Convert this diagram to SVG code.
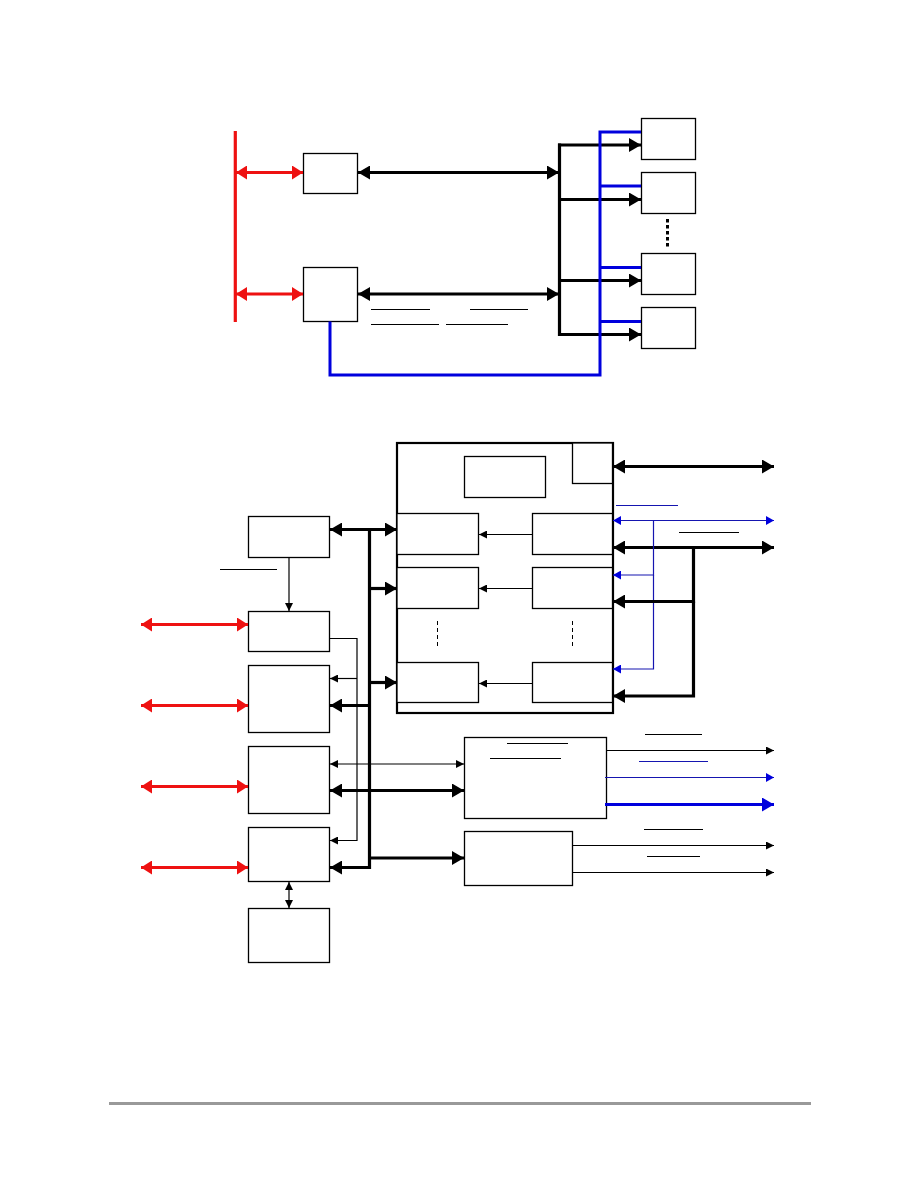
<svg xmlns="http://www.w3.org/2000/svg" width="918" height="1188" viewBox="0 0 918 1188">
<style>
.box{fill:#fff;stroke:#000;stroke-width:1.3}
.thk{fill:none;stroke:#000;stroke-width:3.2}
.thn{fill:none;stroke:#000;stroke-width:1.2}
.red{fill:none;stroke:#ee1111;stroke-width:3.2}
.bl{fill:none;stroke:#0000dd;stroke-width:3}
.blt{fill:none;stroke:#1515b0;stroke-width:1.2}
.ul{fill:none;stroke:#000;stroke-width:1.2}
.ulb{fill:none;stroke:#1515b0;stroke-width:1.2}
.dA{marker-start:url(#aK);marker-end:url(#aK)}
.eA{marker-end:url(#aK)}
.dR{marker-start:url(#aR);marker-end:url(#aR)}
.dT{marker-start:url(#aT);marker-end:url(#aT)}
.eT{marker-end:url(#aT)}
.eB{marker-end:url(#aB)}
.dBt{marker-start:url(#aBt);marker-end:url(#aBt)}
.eBt{marker-end:url(#aBt)}
</style>
<defs>
<marker id="aK" markerUnits="userSpaceOnUse" markerWidth="12" markerHeight="14" refX="12" refY="7" orient="auto-start-reverse"><path d="M0,0 L12,7 L0,14 z" fill="#000"/></marker>
<marker id="aR" markerUnits="userSpaceOnUse" markerWidth="11" markerHeight="14" refX="11" refY="7" orient="auto-start-reverse"><path d="M0,0 L11,7 L0,14 z" fill="#ee1111"/></marker>
<marker id="aT" markerUnits="userSpaceOnUse" markerWidth="8" markerHeight="8" refX="8" refY="4" orient="auto-start-reverse"><path d="M0,0 L8,4 L0,8 z" fill="#000"/></marker>
<marker id="aB" markerUnits="userSpaceOnUse" markerWidth="12" markerHeight="14" refX="12" refY="7" orient="auto-start-reverse"><path d="M0,0 L12,7 L0,14 z" fill="#0000dd"/></marker>
<marker id="aBt" markerUnits="userSpaceOnUse" markerWidth="8" markerHeight="9" refX="8" refY="4.5" orient="auto-start-reverse"><path d="M0,0 L8,4.5 L0,9 z" fill="#0000dd"/></marker>
</defs>
<rect width="918" height="1188" fill="#fff"/>

<!-- top section nodes -->
<g id="t-box1"><rect class="box" x="303.5" y="153.5" width="54" height="40"/></g>
<g id="t-box2"><rect class="box" x="303.5" y="267.5" width="54" height="54"/></g>
<g id="t-out1"><rect class="box" x="641.5" y="118.5" width="54" height="41"/></g>
<g id="t-out2"><rect class="box" x="641.5" y="172.5" width="54" height="41"/></g>
<g id="t-out3"><rect class="box" x="641.5" y="253.5" width="54" height="41"/></g>
<g id="t-out4"><rect class="box" x="641.5" y="307.5" width="54" height="41"/></g>

<!-- bottom section nodes -->
<g id="b-a"><rect class="box" x="248.5" y="516.5" width="81" height="41"/></g>
<g id="b-b"><rect class="box" x="248.5" y="611.5" width="81" height="40"/></g>
<g id="b-c"><rect class="box" x="248.5" y="665.5" width="81" height="67"/></g>
<g id="b-d"><rect class="box" x="248.5" y="746.5" width="81" height="67"/></g>
<g id="b-e"><rect class="box" x="248.5" y="827.5" width="81" height="54"/></g>
<g id="b-f"><rect class="box" x="248.5" y="908.5" width="81" height="54"/></g>
<g id="b-block">
<rect x="397" y="443" width="216" height="270" fill="#fff" stroke="#000" stroke-width="2.2"/>
<rect class="box" x="572.5" y="443" width="40" height="40.5"/>
<rect class="box" x="464.5" y="456.5" width="81" height="41"/>
<rect class="box" x="397" y="513.5" width="81.5" height="41"/>
<rect class="box" x="532.5" y="513.5" width="80" height="41"/>
<rect class="box" x="397" y="567.5" width="81.5" height="41"/>
<rect class="box" x="532.5" y="567.5" width="80" height="41"/>
<rect class="box" x="397" y="662.5" width="81.5" height="40"/>
<rect class="box" x="532.5" y="662.5" width="80" height="40"/>
<line x1="437.5" y1="621" x2="437.5" y2="649" stroke="#000" stroke-width="1" stroke-dasharray="4,3"/>
<line x1="572.5" y1="621" x2="572.5" y2="649" stroke="#000" stroke-width="1" stroke-dasharray="4,3"/>
</g>
<g id="b-g"><rect class="box" x="464.5" y="737.5" width="142" height="81"/></g>
<g id="b-h"><rect class="box" x="464.5" y="831.5" width="108" height="54"/></g>

<g id="connectors">
<!-- top -->
<line class="red" x1="235.3" y1="131" x2="235.3" y2="322"/>
<line class="red dR" x1="236" y1="172.5" x2="303" y2="172.5"/>
<line class="red dR" x1="236" y1="294" x2="303" y2="294"/>
<line class="thk dA" x1="358" y1="172.5" x2="559" y2="172.5"/>
<line class="thk dA" x1="358" y1="294" x2="559" y2="294"/>
<line class="thk" x1="559.5" y1="143.5" x2="559.5" y2="336"/>
<line class="thk eA" x1="558" y1="145" x2="641" y2="145"/>
<line class="thk eA" x1="558" y1="199.5" x2="641" y2="199.5"/>
<line class="thk eA" x1="558" y1="280.5" x2="641" y2="280.5"/>
<line class="thk eA" x1="558" y1="334.5" x2="641" y2="334.5"/>
<path class="bl" d="M330,321.5 V375 H600 V132 H641"/>
<line class="bl" x1="600" y1="186" x2="641" y2="186" stroke-width="2"/>
<line class="bl" x1="600" y1="267.5" x2="641" y2="267.5"/>
<line class="bl" x1="600" y1="321.5" x2="641" y2="321.5"/>
<line x1="667.5" y1="219" x2="667.5" y2="249" stroke="#000" stroke-width="3" stroke-dasharray="3.5,2.5"/>
<line class="ul" x1="371" y1="309.5" x2="430" y2="309.5"/>
<line class="ul" x1="470" y1="309.5" x2="528" y2="309.5"/>
<line class="ul" x1="371" y1="324.5" x2="439" y2="324.5"/>
<line class="ul" x1="446" y1="324.5" x2="508" y2="324.5"/>

<!-- bottom left -->
<line class="ul" x1="220" y1="569.5" x2="277" y2="569.5"/>
<line class="thn eT" x1="289" y1="558" x2="289" y2="611"/>
<line class="red dR" x1="141" y1="624.5" x2="248" y2="624.5"/>
<line class="red dR" x1="141" y1="705.5" x2="248" y2="705.5"/>
<line class="red dR" x1="141" y1="786.5" x2="248" y2="786.5"/>
<line class="red dR" x1="141" y1="867.5" x2="248" y2="867.5"/>
<line class="thn dT" x1="289" y1="882" x2="289" y2="908"/>
<polyline class="thn eT" points="330,638.5 357,638.5 357,840.5 330,840.5"/>
<line class="thn eT" x1="357" y1="678.5" x2="330" y2="678.5"/>
<line class="thk" x1="369.5" y1="528" x2="369.5" y2="869"/>
<line class="thk dA" x1="330" y1="529.5" x2="397" y2="529.5"/>
<line class="thk eA" x1="368" y1="588.5" x2="397" y2="588.5"/>
<line class="thk eA" x1="368" y1="682.5" x2="397" y2="682.5"/>
<line class="thk eA" x1="371" y1="705.5" x2="330" y2="705.5"/>
<line class="thn dT" x1="330" y1="764" x2="464" y2="764"/>
<line class="thk dA" x1="330" y1="790.5" x2="464" y2="790.5"/>
<line class="thk eA" x1="368" y1="858" x2="464" y2="858"/>
<line class="thk eA" x1="371" y1="867.5" x2="330" y2="867.5"/>

<!-- block internal -->
<line class="thn eT" x1="532" y1="534.5" x2="479" y2="534.5"/>
<line class="thn eT" x1="532" y1="588.5" x2="479" y2="588.5"/>
<line class="thn eT" x1="532" y1="683.5" x2="479" y2="683.5"/>

<!-- block right side -->
<line class="thk dA" x1="613" y1="466.5" x2="774" y2="466.5"/>
<line class="ulb" x1="616" y1="505.5" x2="678" y2="505.5"/>
<line class="blt dBt" x1="613" y1="520.5" x2="774" y2="520.5"/>
<line class="ul" x1="679" y1="532.5" x2="739" y2="532.5"/>
<line class="thk dA" x1="613" y1="547.5" x2="774" y2="547.5"/>
<polyline class="blt eBt" points="653.5,520.5 653.5,575 613,575"/>
<polyline class="blt eBt" points="653.5,575 653.5,669 613,669"/>
<polyline class="thk eA" points="693.5,546 693.5,601.5 613,601.5"/>
<polyline class="thk eA" points="693.5,601.5 693.5,696 613,696"/>

<!-- G and H outputs -->
<line class="ul" x1="507" y1="743.5" x2="568" y2="743.5"/>
<line class="ul" x1="490" y1="758.5" x2="561" y2="758.5"/>
<line class="ul" x1="645" y1="734.5" x2="702" y2="734.5"/>
<line class="thn eT" x1="607" y1="750.5" x2="774" y2="750.5"/>
<line class="ulb" x1="639" y1="761.5" x2="708" y2="761.5"/>
<line class="blt eBt" x1="605" y1="777.5" x2="774" y2="777.5"/>
<line class="bl eB" x1="605" y1="804.5" x2="774" y2="804.5"/>
<line class="ul" x1="644" y1="829.5" x2="703" y2="829.5"/>
<line class="thn eT" x1="573" y1="845.5" x2="774" y2="845.5"/>
<line class="ul" x1="647" y1="856.5" x2="700" y2="856.5"/>
<line class="thn eT" x1="573" y1="872.5" x2="774" y2="872.5"/>
</g>

<line x1="109" y1="1103.5" x2="811" y2="1103.5" stroke="#999" stroke-width="3"/>
</svg>
